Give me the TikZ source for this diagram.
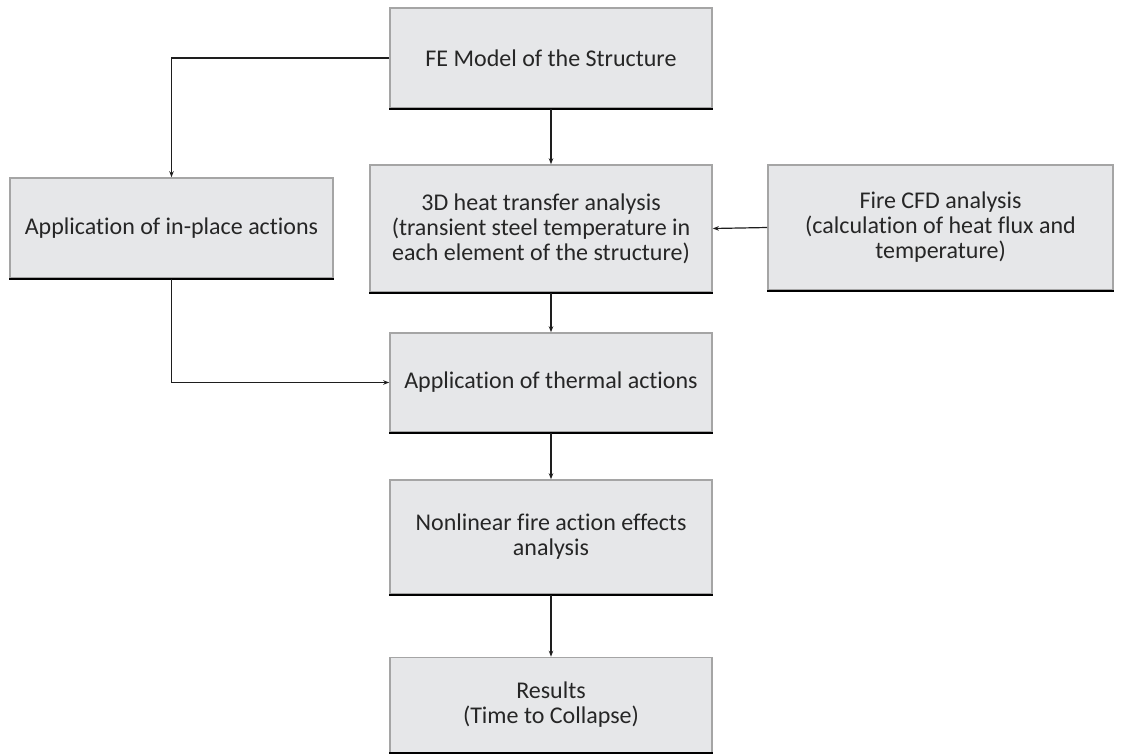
\documentclass[tikz,border=0pt]{standalone}
\usepackage{fontspec}
\setmainfont{Carlito}[Ligatures={NoCommon}]
\usetikzlibrary{arrows.meta}
\definecolor{boxfill}{RGB}{230,231,233}
\definecolor{boxedge}{RGB}{165,165,165}
\definecolor{txt}{RGB}{38,38,38}
\definecolor{lin}{RGB}{30,30,30}
\begin{document}
\begin{tikzpicture}[x=1pt,y=-1pt,
  flowbox/.style={draw=boxedge, line width=1.6pt, fill=boxfill, text=txt,
    font=\fontsize{24}{25}\selectfont, align=center, inner sep=0pt},
  conn/.style={draw=lin, line width=1.2pt, -{Stealth[length=6pt,width=4.5pt]}},
  bottomedge/.style={draw=black, line width=1.8pt}]
\useasboundingbox (0,0) rectangle (1123,753);
\node[flowbox, minimum width=322pt, minimum height=100pt] (fe) at (551,58) {FE Model of the Structure};
\node[flowbox, minimum width=323pt, minimum height=100pt] (inplace) at (171.5,228) {Application of in-place actions};
\node[flowbox, minimum width=342pt, minimum height=127pt] (heat) at (541,228.5) {3D heat transfer analysis\\(transient steel temperature in\\each element of the structure)};
\node[flowbox, minimum width=345pt, minimum height=125pt] (fire) at (940.5,227.5) {Fire CFD analysis\\(calculation of heat flux and\\temperature)};
\node[flowbox, minimum width=322pt, minimum height=99pt] (thermal) at (551,382.5) {Application of thermal actions};
\node[flowbox, minimum width=322pt, minimum height=114pt] (nonlin) at (551,537) {Nonlinear fire action effects\\analysis};
\node[flowbox, minimum width=322pt, minimum height=95pt] (res) at (551,705) {Results\\(Time to Collapse)};
\foreach \n in {fe,inplace,heat,fire,thermal,nonlin,res}
  \draw[bottomedge] (\n.south west) -- (\n.south east);
\draw[conn] (fe.west) -| (inplace.north);
\draw[conn] (fe.south) -- (fe.south |- heat.north);
\draw[conn] (fire.west) -- (heat.east);
\draw[conn] (heat.south -| thermal.north) -- (thermal.north);
\coordinate (bend) at (inplace.south |- thermal.west);
\draw[conn] (inplace.south) -- (bend) -- (thermal.west);
\draw[conn] (thermal.south) -- (nonlin.north);
\draw[conn] (nonlin.south) -- (res.north);
\end{tikzpicture}
\end{document}
